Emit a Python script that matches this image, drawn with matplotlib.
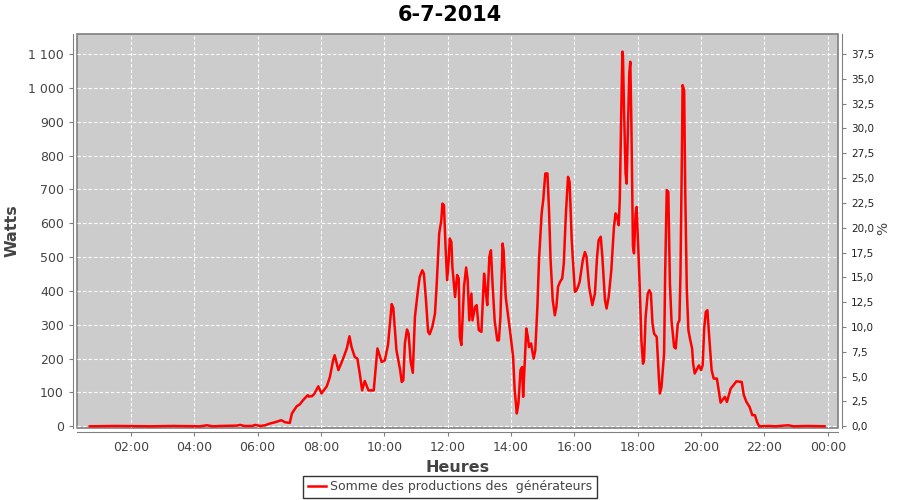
import matplotlib
matplotlib.use("Agg")
import matplotlib.pyplot as plt
from matplotlib.ticker import FuncFormatter, MultipleLocator

# data (time of day, watts)
times = ["00:42", "01:30", "02:36", "03:20", "04:11", "04:24", "04:35", "04:49", "05:20", "05:27",
         "05:35", "05:50", "05:55", "06:05", "06:14", "06:23", "06:33", "06:45", "06:52", "07:01",
         "07:05", "07:14", "07:20", "07:26", "07:35", "07:37", "07:43", "07:47", "07:55", "08:01",
         "08:11", "08:17", "08:23", "08:26", "08:33", "08:42", "08:49", "08:54", "08:58", "09:04",
         "09:09", "09:14", "09:18", "09:23", "09:30", "09:40", "09:47", "09:55", "10:01", "10:07",
         "10:14", "10:17", "10:23", "10:30", "10:33", "10:36", "10:39", "10:43", "10:46", "10:50",
         "10:54", "10:58", "11:03", "11:07", "11:12", "11:15", "11:19", "11:23", "11:26", "11:31",
         "11:36", "11:39", "11:44", "11:48", "11:50", "11:53", "11:56", "11:59", "12:02", "12:04",
         "12:07", "12:09", "12:14", "12:18", "12:21", "12:23", "12:26", "12:31", "12:35", "12:38",
         "12:41", "12:45", "12:47", "12:52", "12:55", "12:59", "13:04", "13:09", "13:12", "13:15",
         "13:19", "13:22", "13:25", "13:29", "13:34", "13:37", "13:40", "13:44", "13:46", "13:50",
         "13:58", "14:04", "14:07", "14:11", "14:14", "14:18", "14:21", "14:23", "14:26", "14:29",
         "14:32", "14:34", "14:38", "14:40", "14:43", "14:46", "14:50", "14:53", "14:58", "15:01",
         "15:05", "15:09", "15:12", "15:15", "15:19", "15:23", "15:26", "15:29", "15:33", "15:37",
         "15:40", "15:44", "15:48", "15:51", "15:55", "15:58", "16:01", "16:04", "16:07", "16:10",
         "16:16", "16:20", "16:23", "16:28", "16:34", "16:39", "16:43", "16:46", "16:50", "16:53",
         "16:58", "17:01", "17:05", "17:10", "17:15", "17:18", "17:21", "17:24", "17:26", "17:29",
         "17:31", "17:32", "17:34", "17:37", "17:39", "17:41", "17:44", "17:46", "17:48", "17:51",
         "17:53", "17:56", "17:58", "18:01", "18:04", "18:07", "18:10", "18:12", "18:15", "18:19",
         "18:22", "18:25", "18:28", "18:31", "18:36", "18:40", "18:42", "18:45", "18:50", "18:52",
         "18:55", "18:58", "19:01", "19:04", "19:09", "19:12", "19:16", "19:19", "19:21", "19:24",
         "19:25", "19:28", "19:30", "19:33", "19:36", "19:39", "19:43", "19:45", "19:48", "19:53",
         "19:56", "20:00", "20:03", "20:06", "20:09", "20:12", "20:15", "20:20", "20:24", "20:30",
         "20:34", "20:37", "20:45", "20:49", "20:56", "21:01", "21:07", "21:17", "21:21", "21:26",
         "21:32", "21:37", "21:42", "21:46", "21:50", "22:10", "22:20", "22:45", "22:55", "23:20",
         "23:54"]
watts = [0, 1, 0, 1, 0, 3, 0, 1, 2, 4,
         1, 1, 4, 1, 3, 8, 12, 18, 12, 10,
         38, 59, 65, 77, 92, 88, 89, 95, 118, 97,
         118, 146, 195, 210, 166, 200, 230, 266, 234, 205,
         200, 151, 106, 134, 106, 106, 230, 190, 195, 240,
         361, 350, 225, 166, 131, 136, 245, 286, 274, 190,
         158, 323, 392, 441, 461, 451, 372, 279, 272, 294,
         333, 412, 570, 609, 658, 653, 530, 432, 491, 555,
         545, 471, 382, 447, 437, 264, 240, 412, 469, 432,
         313, 392, 313, 353, 358, 284, 279, 451, 402, 358,
         501, 520, 422, 313, 254, 254, 323, 540, 520, 382,
         284, 205, 106, 38, 67, 166, 175, 87, 185, 289,
         264, 234, 245, 225, 200, 225, 353, 491, 629, 668,
         747, 747, 639, 491, 373, 328, 353, 412, 427, 437,
         481, 629, 737, 722, 550, 471, 397, 402, 412, 427,
         491, 515, 501, 412, 358, 392, 501, 550, 560, 501,
         373, 348, 382, 461, 589, 629, 619, 594, 668, 944,
         1107, 1097, 944, 747, 717, 846, 1043, 1077, 895, 530,
         511, 629, 648, 530, 402, 254, 185, 195, 323, 392,
         402, 392, 304, 274, 264, 146, 97, 116, 215, 451,
         698, 693, 422, 313, 234, 230, 304, 313, 451, 846,
         1008, 993, 698, 402, 284, 259, 230, 185, 156, 171,
         180, 166, 180, 290, 338, 343, 274, 166, 141, 141,
         101, 70, 87, 72, 111, 121, 133, 131, 92, 72,
         57, 33, 33, 13, 0, 1, 0, 3, 0, 1,
         0]

hours = [int(t[:2]) + int(t[3:]) / 60 for t in times]

fig = plt.figure(figsize=(9, 5), dpi=100)
ax = fig.add_axes([0.0856, 0.144, 0.8454, 0.788])

ax.set_facecolor("#cccccc")
ax.patch.set_edgecolor("#808080")
ax.patch.set_linewidth(1.2)

ax.plot(hours, watts, color="red", linewidth=1.8, label="Somme des productions des  générateurs")

ax.set_xlim(0.30, 24.32)
ax.set_ylim(-5, 1159)

ax.xaxis.set_major_locator(MultipleLocator(2))
ax.xaxis.set_major_formatter(FuncFormatter(lambda v, p: "%02d:00" % (int(round(v)) % 24)))
ax.yaxis.set_major_locator(MultipleLocator(100))
ax.yaxis.set_major_formatter(FuncFormatter(lambda v, p: f"{int(v):,}".replace(",", " ")))

ax.grid(True, color="white", linestyle=(0, (3, 2)), linewidth=0.8)
ax.set_axisbelow(True)

for side in ["left", "bottom", "right"]:
    ax.spines[side].set_position(("outward", 3))
    ax.spines[side].set_color("#808080")
ax.spines["top"].set_visible(False)
ax.spines["right"].set_visible(False)

ax.tick_params(colors="#808080", labelcolor="#444444", labelsize=9, length=3)

sec = ax.secondary_yaxis("right", functions=(lambda w: w * 37.5 / 1100, lambda p: p * 1100 / 37.5))
sec.yaxis.set_major_locator(MultipleLocator(2.5))
sec.yaxis.set_major_formatter(FuncFormatter(lambda v, p: f"{v:.1f}".replace(".", ",")))
sec.spines["right"].set_position(("outward", 3))
sec.spines["right"].set_color("#808080")
sec.tick_params(colors="#808080", labelcolor="#222222", labelsize=7.5, length=3)
fig.text(883 / 900, 1 - 228 / 500, "%", rotation=90, fontsize=10, color="#444444",
         ha="center", va="center")

ax.set_xlabel("Heures", fontsize=11.5, fontweight="bold", color="#444444")
ax.xaxis.set_label_coords(0.5, -0.081)
ax.set_ylabel("Watts", fontsize=11.5, fontweight="bold", color="#444444")
ax.yaxis.set_label_coords(-0.075, 0.5)
fig.suptitle("6-7-2014", fontsize=15, fontweight="bold", y=0.99)

leg = fig.legend(loc="lower center", bbox_to_anchor=(0.5, 0.0), frameon=True, fancybox=False,
                 fontsize=9, handlelength=1.5, borderpad=0.35, handletextpad=0.3,
                 borderaxespad=0.2)
leg.get_frame().set_edgecolor("black")
leg.get_frame().set_linewidth(1)
for t in leg.get_texts():
    t.set_color("#444444")

fig.savefig("out.png", dpi=100)
